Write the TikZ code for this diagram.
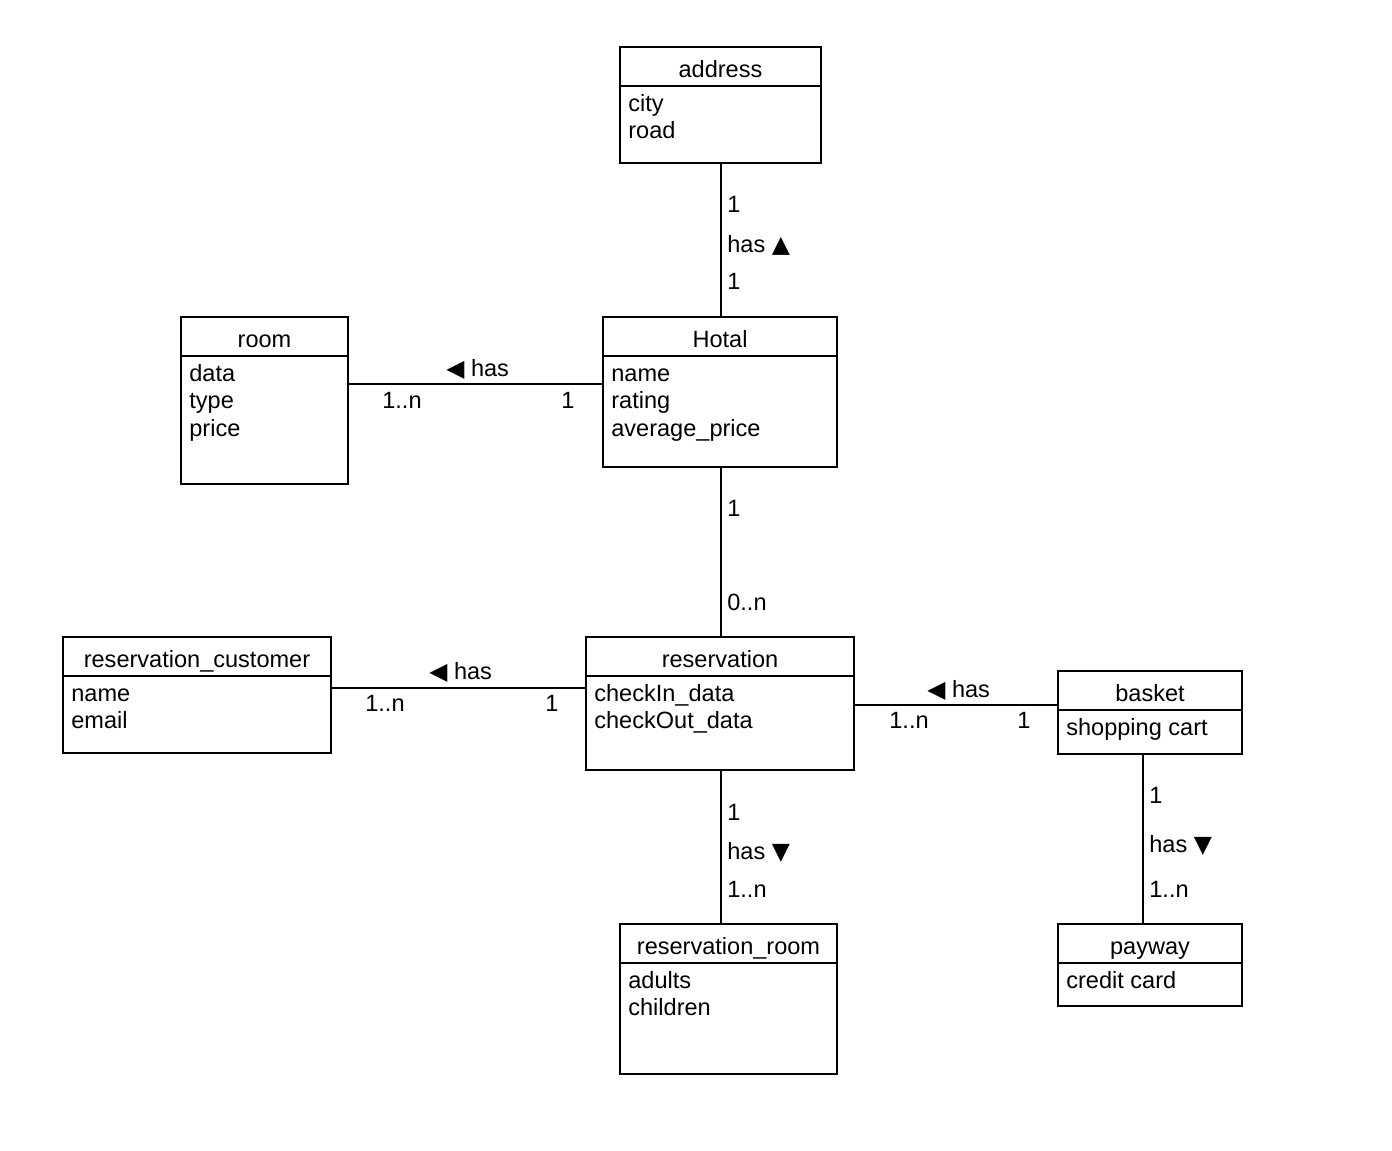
\documentclass[tikz,border=0pt]{standalone}
\usepackage{fontspec}
\setmainfont{Liberation Sans}
\newfontfamily\symfont{DejaVu Sans}
\usetikzlibrary{fit}

\tikzset{
  cls/.style={draw, line width=0.8pt, inner sep=0pt},
  attr/.style={inner sep=0pt, align=left},
  lbl/.style={inner sep=0pt, anchor=west},
  conn/.style={line width=0.8pt},
}
% name, left, top, right, bottom, title, attributes
\newcommand{\umlclass}[7]{%
  \node[cls, fit={(#2,#3) (#4,#5)}] (#1) {};
  \draw[line width=0.8pt] (#2,#3+39) -- (#4,#3+39);
  \node[inner sep=0pt, anchor=base] at ({(#2+#4)/2},#3+30.5) {#6};
  \node[attr, anchor=north west] at (#2+8,#3+45.6) {\strut #7};
}
\newcommand{\up}{{\symfont ▲}}
\newcommand{\down}{{\symfont ▼}}
\newcommand{\lft}{{\symfont ◀}}

\begin{document}
\begin{tikzpicture}[x=0.02cm, y=-0.02cm,
  every node/.append style={font=\fontsize{13.4}{15.4}\selectfont}]
  \useasboundingbox[fill=white] (0,0) rectangle (1392,1150);
  % classes
  \umlclass{address}{620}{47}{821}{163}{address}{city\\road}
  \umlclass{hotal}{603}{317}{837}{467}{Hotal}{name\\rating\\average\_price}
  \umlclass{room}{181}{317}{348}{484}{room}{data\\type\\price}
  \umlclass{reservation}{586}{637}{854}{770}{reservation}{checkIn\_data\\checkOut\_data}
  \umlclass{customer}{63}{637}{331}{753}{reservation\_customer}{name\\email}
  \umlclass{basket}{1058}{671}{1242}{754}{basket}{shopping cart}
  \umlclass{payway}{1058}{924}{1242}{1006}{payway}{credit card}
  \umlclass{resroom}{620}{924}{837}{1074}{reservation\_room}{adults\\children}
  % associations
  \draw[conn] (address.south -| 721,0) -- (hotal.north -| 721,0);
  \draw[conn] (room.east |- 0,384) -- (hotal.west |- 0,384);
  \draw[conn] (hotal.south -| 721,0) -- (reservation.north -| 721,0);
  \draw[conn] (customer.east |- 0,688) -- (reservation.west |- 0,688);
  \draw[conn] (reservation.east |- 0,705) -- (basket.west |- 0,705);
  \draw[conn] (reservation.south -| 721,0) -- (resroom.north -| 721,0);
  \draw[conn] (basket.south -| 1143,0) -- (payway.north -| 1143,0);
  % multiplicities and roles
  \node[lbl] (l1) at (727,204) {1};
  \node[lbl] (l2) at (727,245) {has \up};
  \node[lbl] (l3) at (727,281) {1};
  \node[lbl] (l4) at (446,369) {\lft{} has};
  \node[lbl] (l5) at (382,400) {1..n};
  \node[lbl] (l6) at (561,400) {1};
  \node[lbl] (l7) at (727,508) {1};
  \node[lbl] (l8) at (727,602) {0..n};
  \node[lbl] (l9) at (429,672) {\lft{} has};
  \node[lbl] (l10) at (365,703) {1..n};
  \node[lbl] (l11) at (545,703) {1};
  \node[lbl] (l12) at (927,690) {\lft{} has};
  \node[lbl] (l13) at (889,720) {1..n};
  \node[lbl] (l14) at (1017,720) {1};
  \node[lbl] (l15) at (727,812) {1};
  \node[lbl] (l16) at (727,852) {has \down};
  \node[lbl] (l17) at (727,889) {1..n};
  \node[lbl] (l18) at (1149,795) {1};
  \node[lbl] (l19) at (1149,845) {has \down};
  \node[lbl] (l20) at (1149,889) {1..n};
\end{tikzpicture}
\end{document}
